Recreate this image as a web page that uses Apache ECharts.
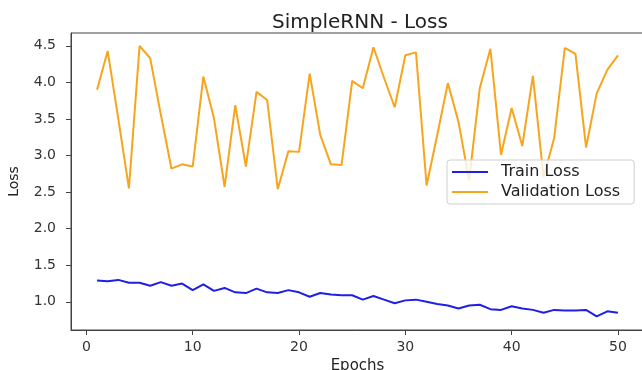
<!DOCTYPE html>
<html>
<head>
<meta charset="utf-8">
<script src="https://cdn.jsdelivr.net/npm/echarts@6/dist/echarts.min.js"></script>
<style>
  html, body { margin: 0; padding: 0; background: #fff; }
  #chart { width: 642px; height: 370px; }
</style>
</head>
<body>
<div id="chart"></div>
<script>
  // epochs 1..50
  const epochs = [1,2,3,4,5,6,7,8,9,10,11,12,13,14,15,16,17,18,19,20,21,22,23,24,25,
    26,27,28,29,30,31,32,33,34,35,36,37,38,39,40,41,42,43,44,45,46,47,48,49,50];

  const trainLoss = [1.29,1.28,1.30,1.26,1.26,1.22,1.27,1.22,1.25,1.16,
    1.24,1.15,1.19,1.13,1.12,1.18,1.13,1.12,1.16,1.13,
    1.07,1.12,1.10,1.09,1.09,1.03,1.08,1.03,0.98,1.02,
    1.03,1.00,0.97,0.95,0.91,0.95,0.96,0.90,0.89,0.94,
    0.91,0.89,0.85,0.89,0.88,0.88,0.89,0.80,0.87,0.85];

  const valLoss = [3.90,4.43,3.50,2.55,4.50,4.33,3.56,2.82,2.88,2.85,
    4.08,3.51,2.57,3.69,2.85,3.87,3.76,2.54,3.06,3.05,
    4.12,3.28,2.88,2.87,4.02,3.92,4.48,4.06,3.66,4.37,
    4.41,2.59,3.28,3.99,3.46,2.66,3.92,4.46,3.01,3.65,
    3.13,4.09,2.70,3.24,4.47,4.39,3.11,3.85,4.17,4.37];

  const xTicks = [0, 10, 20, 30, 40, 50];
  const yTicks = [1.0, 1.5, 2.0, 2.5, 3.0, 3.5, 4.0, 4.5];

  const font = "DejaVu Sans";
  const chart = echarts.init(document.getElementById("chart"), null, { renderer: "canvas" });

  const option = {
    animation: false,
    backgroundColor: "#ffffff",
    title: {
      text: "SimpleRNN - Loss",
      left: 267,
      top: 8,
      textStyle: { fontFamily: font, fontSize: 20, fontWeight: "normal", color: "#222" },
    },
    legend: {
      left: 447,
      top: 160,
      orient: "vertical",
      itemWidth: 36,
      itemHeight: 2,
      itemGap: 4,
      padding: [4, 14, 4, 5],
      backgroundColor: "rgba(255,255,255,0.8)",
      borderColor: "#d0d0d0",
      borderWidth: 1,
      borderRadius: 3,
      textStyle: {
        fontFamily: font, fontSize: 16, color: "#222",
        padding: [0, 0, 0, 8],
      },
      data: [
        { name: "Train Loss", icon: "rect" },
        { name: "Validation Loss", icon: "rect" },
      ],
    },
    grid: {
      left: 71,
      top: 33,
      width: 573,
      height: 297,
      containLabel: false,
      outerBoundsMode: "none",
      show: true,
      borderColor: "#444",
      borderWidth: 1,
      backgroundColor: "transparent",
    },
    xAxis: {
      type: "value",
      min: -1.45,
      max: 52.45,
      name: "Epochs",
      nameLocation: "middle",
      nameGap: 26,
      nameTextStyle: { fontFamily: font, fontSize: 15, color: "#222" },
      splitLine: { show: false },
      axisLine: { onZero: false, lineStyle: { color: "#444", width: 1 } },
      axisTick: { show: true, length: 5, lineStyle: { color: "#444" }, customValues: xTicks },
      axisLabel: {
        customValues: xTicks,
        fontFamily: font, fontSize: 14, color: "#333", margin: 10,
        formatter: (v) => String(v),
      },
    },
    yAxis: {
      type: "value",
      min: 0.615,
      max: 4.675,
      name: "Loss",
      nameLocation: "middle",
      nameGap: 50,
      nameTextStyle: { fontFamily: font, fontSize: 14, color: "#222" },
      splitLine: { show: false },
      axisLine: { show: true, onZero: false, lineStyle: { color: "#444", width: 1 } },
      axisTick: { show: true, length: 5, lineStyle: { color: "#444" }, customValues: yTicks },
      axisLabel: {
        customValues: yTicks,
        fontFamily: font, fontSize: 14, color: "#333", margin: 15,
        formatter: (v) => v.toFixed(1),
      },
    },
    series: [
      {
        name: "Train Loss",
        type: "line",
        data: epochs.map((e, i) => [e, trainLoss[i]]),
        showSymbol: false,
        symbol: "none",
        color: "#1f1fe6",
        lineStyle: { color: "#1f1fe6", width: 2 },
        z: 2,
      },
      {
        name: "Validation Loss",
        type: "line",
        data: epochs.map((e, i) => [e, valLoss[i]]),
        showSymbol: false,
        symbol: "none",
        color: "#f7a51d",
        lineStyle: { color: "#f7a51d", width: 2 },
        z: 3,
      },
    ],
  };

  chart.setOption(option);
</script>
</body>
</html>
